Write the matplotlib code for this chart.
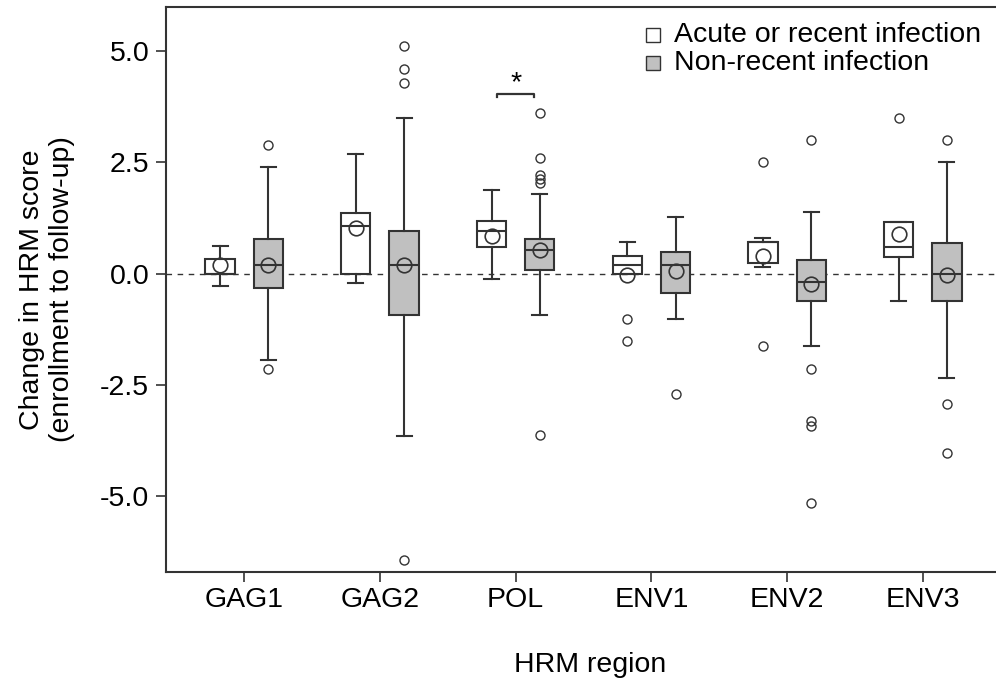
import numpy as np
import matplotlib
matplotlib.use("Agg")
import matplotlib.pyplot as plt

plt.rcParams['font.family'] = ['Liberation Sans', 'DejaVu Sans']
plt.rcParams['axes.unicode_minus'] = False

# HRM regions on the x axis
regions = ["GAG1", "GAG2", "POL", "ENV1", "ENV2", "ENV3"]

# Acute or recent infection (white boxes)
acute_whislo = [-0.28, -0.21, -0.12, 0.00, 0.14, -0.62]
acute_q1 = [0.00, 0.00, 0.59, 0.00, 0.23, 0.38]
acute_med = [0.00, 1.08, 0.96, 0.20, 0.72, 0.59]
acute_q3 = [0.32, 1.37, 1.18, 0.39, 0.72, 1.17]
acute_whishi = [0.62, 2.69, 1.88, 0.70, 0.79, 1.17]
acute_mean = [0.19, 1.02, 0.84, -0.04, 0.40, 0.90]
acute_fliers = [[], [], [], [-1.03, -1.52], [2.50, -1.64], [3.51]]

# Non-recent infection (grey boxes)
nonrec_whislo = [-1.94, -3.65, -0.94, -1.03, -1.64, -2.36]
nonrec_q1 = [-0.32, -0.94, 0.08, -0.43, -0.62, -0.62]
nonrec_med = [0.20, 0.19, 0.52, 0.19, -0.19, 0.00]
nonrec_q3 = [0.78, 0.96, 0.78, 0.49, 0.30, 0.69]
nonrec_whishi = [2.39, 3.51, 1.78, 1.28, 1.38, 2.50]
nonrec_mean = [0.20, 0.19, 0.54, 0.05, -0.23, -0.04]
nonrec_fliers = [[2.90, -2.15], [5.12, 4.61, 4.29, -6.46],
                 [3.62, 2.60, 2.21, 2.12, 2.03, -3.63], [-2.72],
                 [3.01, -2.15, -3.32, -3.44, -5.17], [3.01, -2.93, -4.04]]

INK = "#333333"
FS = 20.5


def make_stats(lo, q1, med, q3, hi, mean, fliers):
    stats = []
    for i in range(len(lo)):
        stats.append(dict(whislo=lo[i], q1=q1[i], med=med[i], q3=q3[i],
                          whishi=hi[i], mean=mean[i], fliers=fliers[i]))
    return stats


def draw_boxes(ax, stats, positions, face):
    ax.bxp(stats, positions=positions, widths=0.216, capwidths=0.11,
           patch_artist=True, showmeans=True, manage_ticks=False, zorder=2,
           boxprops=dict(facecolor=face, edgecolor=INK, linewidth=1.5),
           whiskerprops=dict(color=INK, linewidth=1.5),
           capprops=dict(color=INK, linewidth=1.5),
           medianprops=dict(color=INK, linewidth=1.5),
           meanprops=dict(marker="o", markerfacecolor="none", markeredgecolor=INK,
                          markersize=10.5, markeredgewidth=1.2),
           flierprops=dict(marker="o", markerfacecolor="none", markeredgecolor=INK,
                           markersize=6.5, markeredgewidth=1.0))


fig = plt.figure(figsize=(9.96, 6.81), dpi=100)
ax = fig.add_axes([166 / 996, 1 - 572 / 681, 830 / 996, 565 / 681])

x = np.arange(1, len(regions) + 1)
offset = 0.178

ax.axhline(0, color=INK, linewidth=1.0, linestyle=(0, (4, 4)), zorder=1)

draw_boxes(ax, make_stats(acute_whislo, acute_q1, acute_med, acute_q3,
                          acute_whishi, acute_mean, acute_fliers), x - offset, "white")
draw_boxes(ax, make_stats(nonrec_whislo, nonrec_q1, nonrec_med, nonrec_q3,
                          nonrec_whishi, nonrec_mean, nonrec_fliers), x + offset, "#c0c0c0")

# significance bracket over POL
bx0, bx1, by = 2.865, 3.138, 4.05
ax.plot([bx0, bx0, bx1, bx1], [by - 0.07, by, by, by - 0.07], color=INK, linewidth=1.6)
ax.text((bx0 + bx1) / 2, 4.13, "*", ha="center", va="baseline", fontsize=FS)

ax.set_xlim(0.423, 6.54)
ax.set_ylim(-6.72, 6.0)
ax.set_xticks(x)
ax.set_xticklabels(regions)
ax.set_yticks([5.0, 2.5, 0.0, -2.5, -5.0])
ax.set_yticklabels(["5.0", "2.5", "0.0", "-2.5", "-5.0"])
ax.tick_params(direction="out", length=7, width=1.2, color=INK, labelsize=FS)
ax.tick_params(axis="x", pad=4)
ax.tick_params(axis="y", pad=5)

for side in ["left", "bottom", "top"]:
    ax.spines[side].set_color(INK)
    ax.spines[side].set_linewidth(1.5)
ax.spines["right"].set_visible(False)

ax.set_ylabel("Change in HRM score\n(enrollment to follow-up)", fontsize=FS, linespacing=1.2)
ax.yaxis.set_label_coords(-0.11, 0.5)
ax.set_xlabel("HRM region", fontsize=FS)
ax.xaxis.set_label_coords((590 - 166) / 830, -0.142)

# legend
leg_y = [0.9504, 0.901]
leg_face = ["white", "#c0c0c0"]
leg_text = ["Acute or recent infection", "Non-recent infection"]
for yy, fc, tt in zip(leg_y, leg_face, leg_text):
    ax.plot([0.5867], [yy], marker="s", markersize=9.5, markerfacecolor=fc,
            markeredgecolor=INK, markeredgewidth=1.0, transform=ax.transAxes,
            clip_on=False, linestyle="none")
    ax.text(0.612, yy, tt, transform=ax.transAxes, ha="left", va="center", fontsize=FS)

fig.savefig("out.png", dpi=100)
